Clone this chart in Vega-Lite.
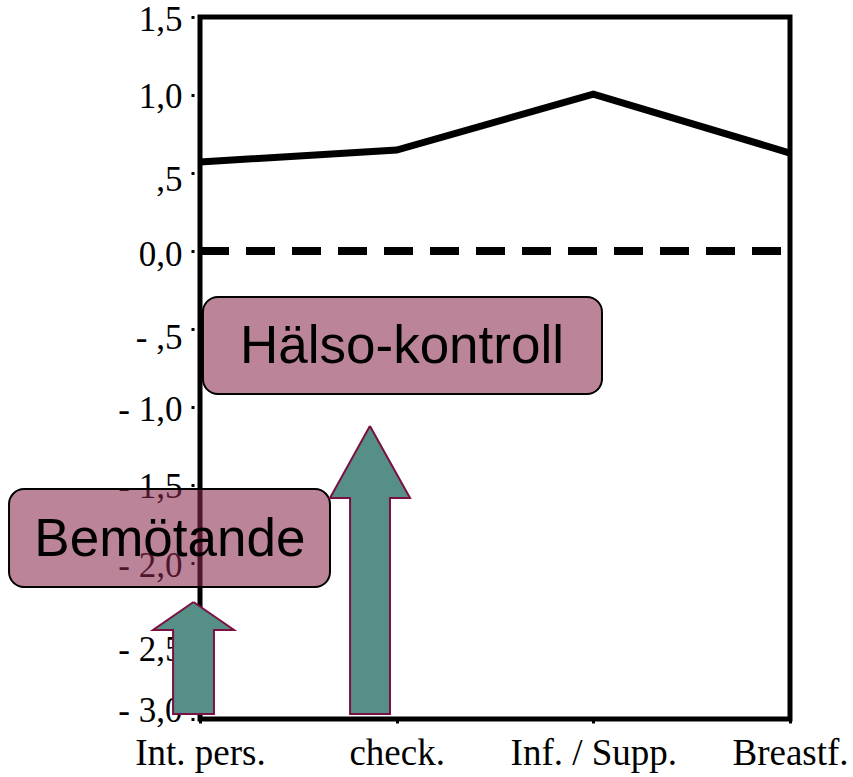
{
  "$schema": "https://vega.github.io/schema/vega-lite/v6.json",
  "width": 590,
  "height": 702,
  "autosize": {"type": "none"},
  "padding": {"left": 200, "top": 17, "right": 63, "bottom": 58},
  "background": "white",
  "view": {"stroke": "black", "strokeWidth": 5},
  "datasets": {
    "series": [
      {"category": "Int. pers.", "x": 0, "y": 0.571},
      {"category": "check.", "x": 1, "y": 0.647},
      {"category": "Inf. / Supp.", "x": 2, "y": 1.006},
      {"category": "Breastf.", "x": 3, "y": 0.628}
    ],
    "baseline": [{"x": 0, "x2": 3, "y": 0}],
    "boxes": [
      {"label": "Hälso-kontroll", "x": 0.015, "x2": 2.044, "y": -0.295, "y2": -0.917, "tx": 1.027, "ty": -0.615},
      {"label": "Bemötande", "x": -0.971, "x2": 0.661, "y": -1.526, "y2": -2.154, "tx": -0.153, "ty": -1.853}
    ],
    "arrows": [
      {"arrow": "small", "i": 1, "x": -0.033, "y": -2.25},
      {"arrow": "small", "i": 2, "x": 0.173, "y": -2.429},
      {"arrow": "small", "i": 3, "x": 0.071, "y": -2.429},
      {"arrow": "small", "i": 4, "x": 0.071, "y": -2.968},
      {"arrow": "small", "i": 5, "x": -0.137, "y": -2.968},
      {"arrow": "small", "i": 6, "x": -0.137, "y": -2.429},
      {"arrow": "small", "i": 7, "x": -0.239, "y": -2.429},
      {"arrow": "small", "i": 8, "x": -0.033, "y": -2.25},
      {"arrow": "big", "i": 1, "x": 0.864, "y": -1.122},
      {"arrow": "big", "i": 2, "x": 1.068, "y": -1.583},
      {"arrow": "big", "i": 3, "x": 0.966, "y": -1.583},
      {"arrow": "big", "i": 4, "x": 0.966, "y": -2.968},
      {"arrow": "big", "i": 5, "x": 0.763, "y": -2.968},
      {"arrow": "big", "i": 6, "x": 0.763, "y": -1.583},
      {"arrow": "big", "i": 7, "x": 0.661, "y": -1.583},
      {"arrow": "big", "i": 8, "x": 0.864, "y": -1.122}
    ]
  },
  "encoding": {
    "x": {
      "field": "x", "type": "quantitative", "title": null,
      "scale": {"domain": [0, 3], "nice": false, "zero": false},
      "axis": {
        "values": [0, 1, 2, 3],
        "labelExpr": "['Int. pers.','check.','Inf. / Supp.','Breastf.'][round(datum.value)]",
        "grid": false, "domain": false,
        "tickSize": 4, "tickWidth": 3, "tickColor": "black",
        "labelFont": "Liberation Serif", "labelFontSize": 37, "labelColor": "black",
        "labelPadding": 12, "labelFlush": false, "labelOverlap": false, "labelBound": false
      }
    },
    "y": {
      "field": "y", "type": "quantitative", "title": null,
      "scale": {"domain": [-3, 1.5], "nice": false, "zero": false},
      "axis": {
        "values": [-3, -2.5, -2, -1.5, -1, -0.5, 0, 0.5, 1, 1.5],
        "labelExpr": "['- 3,0','- 2,5','- 2,0','- 1,5','- 1,0','- ,5','0,0',',5','1,0','1,5'][round((datum.value+3)*2)]",
        "grid": false, "domain": false, "offset": 6,
        "tickSize": 3, "tickWidth": 3, "tickColor": "black",
        "labelFont": "Liberation Serif", "labelFontSize": 35, "labelColor": "black",
        "labelPadding": 9,
        "labelOffset": {
          "condition": [
            {"test": "datum.value == 1.5", "value": 2.5},
            {"test": "datum.value == 1", "value": 1},
            {"test": "datum.value == 0.5", "value": 6.5},
            {"test": "datum.value == 0", "value": 3.5},
            {"test": "datum.value == -0.5", "value": 8.5},
            {"test": "datum.value == -1", "value": 2.5},
            {"test": "datum.value == -1.5", "value": 1.5},
            {"test": "datum.value == -2", "value": 2},
            {"test": "datum.value == -2.5", "value": 8},
            {"test": "datum.value == -3", "value": -9}
          ],
          "value": 3
        },
        "labelFlush": false, "labelOverlap": false, "labelBound": false
      }
    }
  },
  "layer": [
    {
      "data": {"name": "baseline"},
      "mark": {"type": "rule", "color": "black", "strokeWidth": 8, "strokeDash": [29, 17]},
      "encoding": {"x2": {"field": "x2"}}
    },
    {
      "data": {"name": "series"},
      "mark": {"type": "line", "color": "black", "strokeWidth": 7, "strokeJoin": "miter"}
    },
    {
      "data": {"name": "boxes"},
      "mark": {"type": "rect", "fill": "#89274C", "fillOpacity": 0.57, "stroke": "black", "strokeWidth": 2, "cornerRadius": 15},
      "encoding": {"x2": {"field": "x2"}, "y2": {"field": "y2"}}
    },
    {
      "data": {"name": "boxes"},
      "mark": {"type": "text", "font": "Liberation Sans", "fontSize": 53, "color": "black", "align": "center", "baseline": "middle"},
      "encoding": {
        "x": {"field": "tx", "type": "quantitative"},
        "y": {"field": "ty", "type": "quantitative"},
        "text": {"field": "label"}
      }
    },
    {
      "data": {"name": "arrows"},
      "mark": {"type": "line", "fill": "#558F85", "stroke": "#7B1042", "strokeWidth": 2, "strokeJoin": "miter"},
      "encoding": {
        "detail": {"field": "arrow"},
        "order": {"field": "i", "type": "quantitative"}
      }
    }
  ]
}
